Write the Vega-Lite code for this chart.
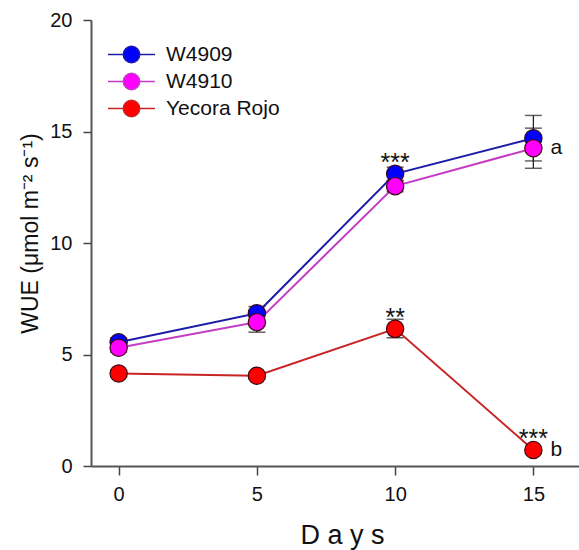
{
  "$schema": "https://vega.github.io/schema/vega-lite/v6.json",
  "width": 488,
  "height": 446,
  "autosize": {"type": "none"},
  "padding": {"left": 91, "top": 20, "right": 0, "bottom": 84},
  "config": {
    "font": "Liberation Sans",
    "view": {"stroke": null},
    "axis": {"grid": false, "domainColor": "#555", "domainWidth": 2, "tickColor": "#444", "tickWidth": 1.5, "labelColor": "#111", "titleColor": "#111", "labelFontSize": 20, "labelFont": "Liberation Sans", "titleFont": "Liberation Sans", "titleFontWeight": "normal"},
    "legend": {"title": null, "orient": "none", "legendX": 28, "legendY": 22, "symbolType": "M-2,0H-0.7M0.7,0H2M0.7,0A0.7,0.7,0,1,1,-0.7,0A0.7,0.7,0,1,1,0.7,0", "symbolSize": 552, "symbolStrokeWidth": 1.5, "labelFontSize": 21, "labelOffset": 22, "rowPadding": 3, "labelColor": "#111", "padding": 0, "labelFont": "Liberation Sans"}
  },
  "datasets": {
    "wue": [
      {"day": 0, "series": "W4909", "value": 5.55, "lo": 5.35, "hi": 5.75},
      {"day": 5, "series": "W4909", "value": 6.85, "lo": 6.55, "hi": 7.15},
      {"day": 10, "series": "W4909", "value": 13.1, "lo": 12.8, "hi": 13.4},
      {"day": 15, "series": "W4909", "value": 14.7, "lo": 13.68, "hi": 15.72},
      {"day": 0, "series": "W4910", "value": 5.3, "lo": 5.1, "hi": 5.5},
      {"day": 5, "series": "W4910", "value": 6.45, "lo": 6.0, "hi": 6.9},
      {"day": 10, "series": "W4910", "value": 12.55, "lo": 12.3, "hi": 12.8},
      {"day": 15, "series": "W4910", "value": 14.25, "lo": 13.35, "hi": 15.15},
      {"day": 0, "series": "Yecora Rojo", "value": 4.15, "lo": 4.0, "hi": 4.3},
      {"day": 5, "series": "Yecora Rojo", "value": 4.05, "lo": 3.9, "hi": 4.2},
      {"day": 10, "series": "Yecora Rojo", "value": 6.15, "lo": 5.75, "hi": 6.58},
      {"day": 15, "series": "Yecora Rojo", "value": 0.72, "lo": 0.62, "hi": 0.82}
    ],
    "stars": [
      {"day": 10, "value": 13.1, "label": "***"},
      {"day": 10, "value": 6.15, "label": "**"},
      {"day": 15, "value": 0.72, "label": "***"}
    ],
    "letters": [
      {"day": 15, "value": 14.25, "label": "a"},
      {"day": 15, "value": 0.72, "label": "b"}
    ]
  },
  "encoding": {
    "x": {"field": "day", "type": "quantitative", "scale": {"domain": [-1, 16.65], "nice": false, "zero": false},
      "axis": {"values": [0, 5, 10, 15], "title": "D a y s", "titleFontSize": 27, "tickSize": 9, "labelPadding": 9, "titleX": 251, "titleY": 77, "titleBaseline": "alphabetic", "titleAlign": "center", "titleAnchor": null}},
    "y": {"field": "value", "type": "quantitative", "scale": {"domain": [0, 20], "nice": false},
      "axis": {"values": [0, 5, 10, 15, 20], "title": "WUE (μmol m⁻² s⁻¹)", "titleFontSize": 23, "tickSize": 8, "labelPadding": 11, "titleX": -54, "titleY": 213, "titleBaseline": "alphabetic", "titleAlign": "center", "titleAngle": -90}}
  },
  "layer": [
    {
      "mark": {"type": "rule", "color": "#555", "strokeWidth": 2},
      "encoding": {"y": {"datum": 20}, "x": null}
    },
    {
      "data": {"name": "wue"},
      "mark": {"type": "line", "strokeWidth": 2},
      "encoding": {
        "stroke": {"field": "series", "type": "nominal",
          "scale": {"domain": ["W4909", "W4910", "Yecora Rojo"], "range": ["#1c1ca8", "#c43cc4", "#c82424"]}}
      }
    },
    {
      "data": {"name": "wue"},
      "mark": {"type": "rule", "color": "#222", "strokeWidth": 1.3},
      "encoding": {"y": {"field": "lo", "type": "quantitative"}, "y2": {"field": "hi"}}
    },
    {
      "data": {"name": "wue"},
      "mark": {"type": "tick", "orient": "horizontal", "color": "#222", "size": 17, "thickness": 1.5},
      "encoding": {"y": {"field": "lo", "type": "quantitative"}}
    },
    {
      "data": {"name": "wue"},
      "mark": {"type": "tick", "orient": "horizontal", "color": "#222", "size": 17, "thickness": 1.5},
      "encoding": {"y": {"field": "hi", "type": "quantitative"}}
    },
    {
      "data": {"name": "wue"},
      "mark": {"type": "point", "shape": "circle", "filled": true, "size": 300, "opacity": 1, "strokeWidth": 1.2, "stroke": "#3a0a14"},
      "encoding": {
        "fill": {"field": "series", "type": "nominal",
          "scale": {"domain": ["W4909", "W4910", "Yecora Rojo"], "range": ["#0000ff", "#ff00ff", "#ff0000"]}}
      }
    },
    {
      "data": {"name": "stars"},
      "mark": {"type": "text", "fontSize": 25, "baseline": "alphabetic", "dy": -3, "color": "#111"},
      "encoding": {"text": {"field": "label"}}
    },
    {
      "data": {"name": "letters"},
      "mark": {"type": "text", "fontSize": 21, "baseline": "alphabetic", "align": "left", "dx": 17, "dy": 6, "color": "#111"},
      "encoding": {"text": {"field": "label"}}
    }
  ]
}
